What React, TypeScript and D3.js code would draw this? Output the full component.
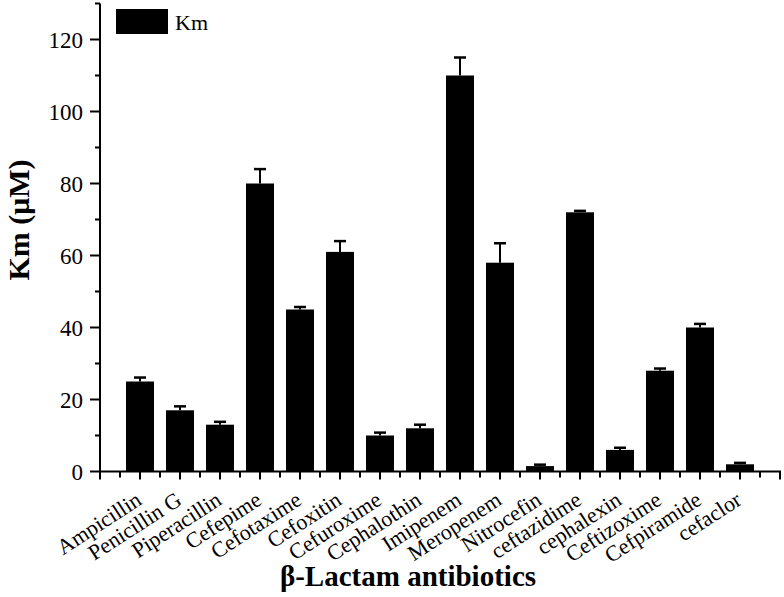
import React from 'react';
import * as d3 from 'd3';

const categories = [
  'Ampicillin', 'Penicillin G', 'Piperacillin', 'Cefepime', 'Cefotaxime', 'Cefoxitin',
  'Cefuroxime', 'Cephalothin', 'Imipenem', 'Meropenem', 'Nitrocefin', 'ceftazidime',
  'cephalexin', 'Ceftizoxime', 'Cefpiramide', 'cefaclor',
];
const kmValues = [25, 17, 13, 80, 45, 61, 10, 12, 110, 58, 1.5, 72, 6, 28, 40, 2];
const kmErrors = [1.1, 1.1, 0.8, 4, 0.7, 3, 0.8, 1, 5, 5.4, 0.4, 0.4, 0.6, 0.6, 1, 0.4];
const yTicks = [0, 20, 40, 60, 80, 100, 120];
const yMinorTicks = [10, 30, 50, 70, 90, 110, 130];

const W = 784;
const H = 597;
const font = '"Liberation Serif", "Times New Roman", serif';

const App = () => {
  const xScale = d3.scaleLinear().domain([0, categories.length + 1]).range([100, 780]);
  const yScale = d3.scaleLinear().domain([0, 130]).range([471.5, 3.5]);
  const y0 = yScale(0);
  const barW = (xScale(1) - xScale(0)) * 0.7;
  const capW = 12;

  const xMinor = d3.range(0, categories.length + 1).map(i => i + 0.5);

  return (
    <svg width={W} height={H}
      style={{ position: 'absolute', left: 0, top: 0, background: '#fff', fontFamily: font }}>
      {/* bars */}
      {kmValues.map((v, i) => (
        <rect key={`b-${i}`} x={xScale(i + 1) - barW / 2} y={yScale(v)} width={barW}
          height={y0 - yScale(v)} fill='#000' />
      ))}
      {/* error bars */}
      {kmValues.map((v, i) => {
        const cx = xScale(i + 1);
        const top = yScale(v + kmErrors[i]);
        return (
          <g key={`e-${i}`} stroke='#000'>
            <line x1={cx} x2={cx} y1={yScale(v)} y2={top} strokeWidth={2} />
            <line x1={cx - capW / 2} x2={cx + capW / 2} y1={top} y2={top} strokeWidth={2.5} />
          </g>
        );
      })}

      {/* y axis */}
      <line x1={100} x2={100} y1={yScale(130)} y2={y0 + 1} stroke='#000' strokeWidth={2} />
      {yTicks.map(t => (
        <g key={`yt-${t}`}>
          <line x1={90} x2={100} y1={yScale(t)} y2={yScale(t)} stroke='#000' strokeWidth={2} />
          <text x={83} y={yScale(t)} dy='0.35em' textAnchor='end' fontSize={23}>{t}</text>
        </g>
      ))}
      {yMinorTicks.map(t => (
        <line key={`ym-${t}`} x1={95} x2={100} y1={yScale(t)} y2={yScale(t)} stroke='#000' strokeWidth={2} />
      ))}

      {/* x axis */}
      <line x1={99} x2={xScale(categories.length + 1) + 1} y1={y0} y2={y0} stroke='#000' strokeWidth={2} />
      {d3.range(0, categories.length + 2).map(i => (
        <line key={`xt-${i}`} x1={xScale(i)} x2={xScale(i)} y1={y0} y2={y0 + 8} stroke='#000' strokeWidth={2} />
      ))}
      {xMinor.map(p => (
        <line key={`xm-${p}`} x1={xScale(p)} x2={xScale(p)} y1={y0} y2={y0 + 6} stroke='#000' strokeWidth={2} />
      ))}
      {categories.map((c, i) => {
        const ax = xScale(i + 1) + 3;
        const ay = y0 + 32;
        return (
          <text key={`xl-${i}`} x={ax} y={ay} textAnchor='end' fontSize={22}
            transform={`rotate(-33, ${ax}, ${ay})`}>{c}</text>
        );
      })}

      {/* axis titles */}
      <text x={408} y={586} textAnchor='middle' fontSize={29} fontWeight='bold'>β-Lactam antibiotics</text>
      <text transform='translate(29, 220) rotate(-90)' textAnchor='middle' fontSize={30} fontWeight='bold'>Km (μM)</text>

      {/* legend */}
      <rect x={116} y={9} width={52} height={25} fill='#000' />
      <text x={175} y={30} fontSize={22}>Km</text>
    </svg>
  );
};

export default App;
